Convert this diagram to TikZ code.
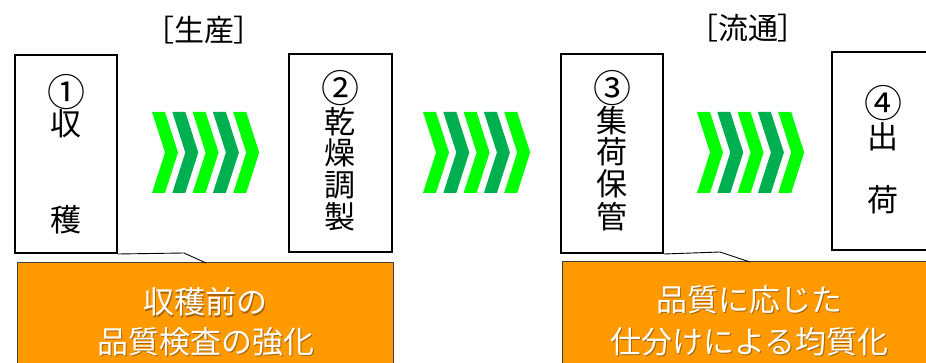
\documentclass[tikz,border=0pt]{standalone}
\usepackage{fontspec}
\setmainfont{Noto Sans CJK JP}
\newfontfamily\jpp{Noto Sans CJK JP}[RawFeature=+palt]
\definecolor{brgreen}{HTML}{00FF00}
\definecolor{dkgreen}{HTML}{00B050}
\definecolor{orng}{HTML}{FF9900}
\definecolor{obord}{HTML}{404040}
\begin{document}
\begin{tikzpicture}[x=1pt,y=-1pt,
  stepbox/.style={draw=black,line width=2pt,fill=white},
  notebox/.style={draw=obord,line width=1pt,fill=orng},
  glyph/.style={inner sep=0pt,anchor=center,font=\fontsize{31}{32}\selectfont},
  cnum/.style={inner sep=0pt,anchor=center,font=\fontsize{38}{40}\selectfont},
  ntext/.style={inner sep=0pt,anchor=center,text=white,font=\fontsize{31}{32}\selectfont},
  nshadow/.style={ntext,text=black,text opacity=0.35},
  ttext/.style={inner sep=0pt,anchor=center,font=\jpp\fontsize{30}{32}\selectfont},
  pointer/.style={draw=black,line width=0.9pt}]
\useasboundingbox (0,0) rectangle (926,363);
\clip (0,0) rectangle (926,363);

% titles
\node[ttext] (t1) at (204,30) {［生産］};
\node[ttext] (t2) at (748,28) {［流通］};

% step boxes
\node[stepbox,minimum width=102pt,minimum height=198pt,inner sep=0pt] (b1) at (66,154) {};
\node[stepbox,minimum width=103pt,minimum height=198pt,inner sep=0pt] (b2) at (340.5,153) {};
\node[stepbox,minimum width=102pt,minimum height=199pt,inner sep=0pt] (b3) at (612,153.5) {};
\node[stepbox,minimum width=102pt,minimum height=198pt,inner sep=0pt] (b4) at (883,151) {};

% box texts
\node[cnum] (b1a) at (66,92) {①};
\node[glyph] (b1b) at (66,124) {収};
\node[glyph] (b1c) at (66,220) {穫};

\node[cnum] (b2a) at (340,88) {②};
\node[glyph] (b2b) at (340,122) {乾};
\node[glyph] (b2c) at (340,153) {燥};
\node[glyph] (b2d) at (340,185) {調};
\node[glyph] (b2e) at (340,217) {製};

\node[cnum] (b3a) at (612,88) {③};
\node[glyph] (b3b) at (612,121) {集};
\node[glyph] (b3c) at (612,152) {荷};
\node[glyph] (b3d) at (612,184) {保};
\node[glyph] (b3e) at (612,217) {管};

\node[cnum] (b4a) at (883,103) {④};
\node[glyph] (b4b) at (883,137) {出};
\node[glyph] (b4c) at (883,200) {荷};

% orange callouts
\node[notebox,minimum width=376pt,minimum height=120pt,inner sep=0pt] (n1) at (205,323) {};
\node[notebox,minimum width=376pt,minimum height=120pt,inner sep=0pt] (n2) at (750,322) {};
\coordinate (p1a) at (184,253);
\coordinate (p1b) at (206,263);
\coordinate (p2a) at (720,252);
\coordinate (p2b) at (750,262);
\draw[pointer] (b1.south east) -- (p1a) -- (p1b);
\draw[pointer] (b3.south east) -- (p2a) -- (p2b);

\node[nshadow] (s1a) at (206.2,303.2) {収穫前の};
\node[nshadow] (s1b) at (207.2,343.2) {品質検査の強化};
\node[nshadow] (s2a) at (750.2,301.2) {品質に応じた};
\node[nshadow] (s2b) at (750.7,343.2) {仕分けによる均質化};
\node[ntext] (n1a) at (205,302) {収穫前の};
\node[ntext] (n1b) at (206,342) {品質検査の強化};
\node[ntext] (n2a) at (749,300) {品質に応じた};
\node[ntext] (n2b) at (749.5,342) {仕分けによる均質化};

% chevrons
\newcommand{\chev}[2]{%
  \fill[#2] (#1,112) -- ++(13,0) -- ++(13,40.5) -- ++(-13,40.5) -- ++(-13,0) -- ++(13,-40.5) -- cycle;}
\foreach \s in {0,20.3,40.6,60.9,81.2}{
  \pgfmathsetmacro{\i}{int(round(\s/20.3))}
  \ifodd\i\def\cc{dkgreen}\else\def\cc{brgreen}\fi
  \chev{152+\s}{\cc}
  \chev{423+\s}{\cc}
  \chev{697+\s}{\cc}
}
\end{tikzpicture}
\end{document}
